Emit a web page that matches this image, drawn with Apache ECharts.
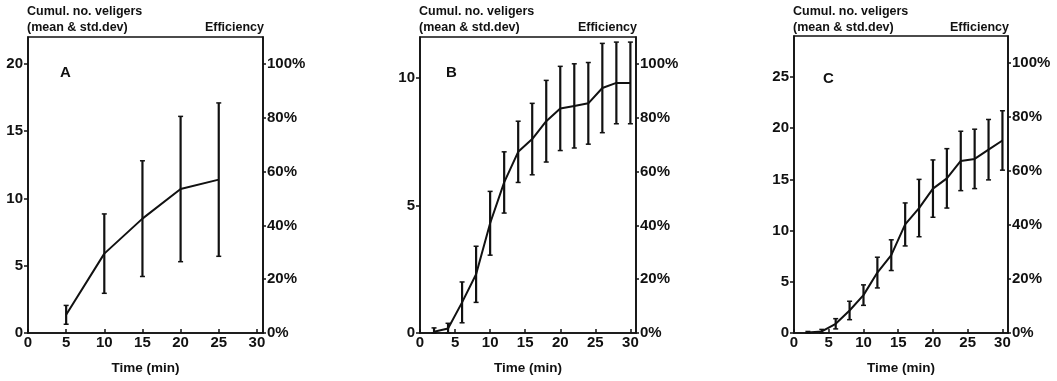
<!DOCTYPE html>
<html><head><meta charset="utf-8">
<script src="https://cdn.jsdelivr.net/npm/echarts@6/dist/echarts.min.js"></script>
<style>html,body{margin:0;padding:0;background:#fff}#c{width:1057px;height:381px}</style>
</head><body><div id="c"></div>
<script>
// ---- data ----
const timeA = [5, 10, 15, 20, 25];
const meanA = [1.35, 5.9, 8.5, 10.7, 11.4];
const sdA   = [0.7, 2.95, 4.3, 5.4, 5.7];

const timeB = [2, 4, 6, 8, 10, 12, 14, 16, 18, 20, 22, 24, 26, 28, 30];
const meanB = [0.05, 0.18, 1.2, 2.3, 4.3, 5.9, 7.1, 7.6, 8.3, 8.8, 8.9, 9.0, 9.6, 9.8, 9.8];
const sdB   = [0.15, 0.2, 0.8, 1.1, 1.25, 1.2, 1.2, 1.4, 1.6, 1.65, 1.65, 1.6, 1.75, 1.6, 1.6];

const timeC = [2, 4, 6, 8, 10, 12, 14, 16, 18, 20, 22, 24, 26, 28, 30];
const meanC = [0.05, 0.15, 0.9, 2.2, 3.7, 5.9, 7.6, 10.6, 12.2, 14.1, 15.1, 16.8, 17.0, 17.9, 18.8];
const sdC   = [0.1, 0.2, 0.5, 0.9, 1.0, 1.5, 1.5, 2.1, 2.8, 2.8, 2.9, 2.9, 2.9, 2.95, 2.9];

const xTicks = [0, 5, 10, 15, 20, 25, 30];
const yTicksA = [0, 5, 10, 15, 20];
const yTicksB = [0, 5, 10];
const yTicksC = [0, 5, 10, 15, 20, 25];
const pctTicks = [0, 20, 40, 60, 80, 100];
const panelLetters = ['A', 'B', 'C'];
const yTitle1 = 'Cumul. no. veligers';
const yTitle2 = '(mean & std.dev)';
const rTitle = 'Efficiency';
const xTitle = 'Time (min)';

// ---- chart ----
const FONT = '"Liberation Sans", Arial, sans-serif';
const INK = '#111';
const panels = [
  {t: timeA, m: meanA, s: sdA, yt: yTicksA, ymax: 22,   g: {left: 28,  top: 37, width: 235, height: 296}, letter: [60, 65]},
  {t: timeB, m: meanB, s: sdB, yt: yTicksB, ymax: 11.6, g: {left: 420, top: 37, width: 216, height: 296}, letter: [446, 65]},
  {t: timeC, m: meanC, s: sdC, yt: yTicksC, ymax: 29,   g: {left: 794, top: 36, width: 214, height: 297}, letter: [823, 71]}
];

function errRender(params, api) {
  const x = api.value(0), lo = api.value(1), hi = api.value(2);
  const p1 = api.coord([x, lo]), p2 = api.coord([x, hi]);
  const c = 2.5;
  return {type: 'group', children: [
    {type: 'line', shape: {x1: p1[0], y1: p1[1], x2: p2[0], y2: p2[1]}, style: {stroke: INK, lineWidth: 2.2}},
    {type: 'line', shape: {x1: p1[0] - c, y1: p1[1], x2: p1[0] + c, y2: p1[1]}, style: {stroke: INK, lineWidth: 1.5}},
    {type: 'line', shape: {x1: p2[0] - c, y1: p2[1], x2: p2[0] + c, y2: p2[1]}, style: {stroke: INK, lineWidth: 1.5}}
  ]};
}

const grid = [], xAxis = [], yAxis = [], series = [], title = [];
const lblStyle = {color: INK, fontFamily: FONT, fontWeight: 'bold', fontSize: 15};
panels.forEach((p, i) => {
  grid.push(Object.assign({show: true, borderColor: INK, borderWidth: 1.6, backgroundColor: 'transparent'}, p.g));
  xAxis.push({
    type: 'value', gridIndex: i, min: 0, max: 30.8,
    axisLine: {show: true, onZero: false, lineStyle: {color: INK, width: 1.6}},
    axisTick: {show: true, inside: true, length: 4, customValues: xTicks, lineStyle: {color: INK, width: 1.5}},
    axisLabel: Object.assign({margin: 2, customValues: xTicks, formatter: v => String(v)}, lblStyle),
    splitLine: {show: false},
    name: xTitle, nameLocation: 'middle', nameGap: 28,
    nameTextStyle: {color: INK, fontFamily: FONT, fontWeight: 'bold', fontSize: 13.5}
  });
  yAxis.push({
    type: 'value', gridIndex: i, min: 0, max: p.ymax, position: 'left',
    axisLine: {show: true, onZero: false, lineStyle: {color: INK, width: 1.6}},
    axisTick: {show: true, inside: false, length: 4, customValues: p.yt, lineStyle: {color: INK, width: 1.5}},
    axisLabel: Object.assign({margin: 5, customValues: p.yt, formatter: v => String(v)}, lblStyle),
    splitLine: {show: false}
  });
  yAxis.push({
    type: 'value', gridIndex: i, min: 0, max: 110, position: 'right',
    axisLine: {show: true, onZero: false, lineStyle: {color: INK, width: 1.6}},
    axisTick: {show: true, inside: false, length: 3, customValues: pctTicks, lineStyle: {color: INK, width: 1.5}},
    axisLabel: Object.assign({margin: 4, customValues: pctTicks, formatter: v => v + '%'}, lblStyle),
    splitLine: {show: false}
  });
  series.push({
    type: 'line', xAxisIndex: i, yAxisIndex: 2 * i, symbol: 'none', silent: true,
    lineStyle: {color: INK, width: 2},
    data: p.t.map((t, k) => [t, p.m[k]])
  });
  series.push({
    type: 'custom', xAxisIndex: i, yAxisIndex: 2 * i, silent: true,
    renderItem: errRender, encode: {x: 0, y: [1, 2]},
    data: p.t.map((t, k) => [t, Math.max(0, p.m[k] - p.s[k]), p.m[k] + p.s[k]])
  });
  title.push({
    text: yTitle1 + '\n' + yTitle2, left: p.g.left - 1, top: 4, padding: 0,
    textStyle: {color: INK, fontFamily: FONT, fontWeight: 'bold', fontSize: 12.5, lineHeight: 16}
  });
  title.push({
    text: rTitle, right: 1057 - (p.g.left + p.g.width) - 1, top: 21, padding: 0,
    textStyle: {color: INK, fontFamily: FONT, fontWeight: 'bold', fontSize: 12.5}
  });
  title.push({
    text: panelLetters[i], left: p.letter[0], top: p.letter[1], padding: 0,
    textStyle: {color: INK, fontFamily: FONT, fontWeight: 'bold', fontSize: 15}
  });
});

const chart = echarts.init(document.getElementById('c'), null, {renderer: 'canvas'});
chart.setOption({backgroundColor: '#fff', animation: false, title, grid, xAxis, yAxis, series});
</script></body></html>
